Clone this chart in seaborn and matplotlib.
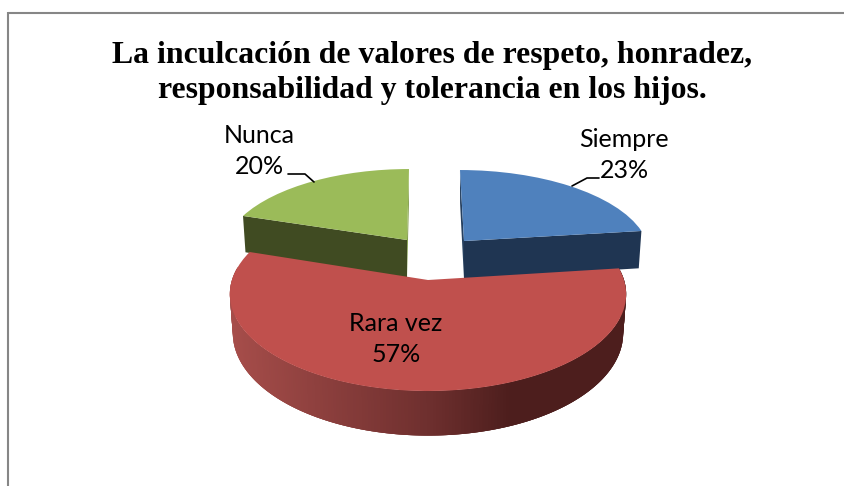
import numpy as np
import matplotlib
matplotlib.use("Agg")
import matplotlib.pyplot as plt
import seaborn as sns
from matplotlib.transforms import Transform
from matplotlib.patches import Polygon

categories = ["Siempre", "Rara vez", "Nunca"]
values = [23, 57, 20]
slice_colors = ["#4F81BD", "#C0504D", "#9BBB59"]
side_colors = ["#1F3552", "#4D1E1D", "#404B22"]
back_colors = ["#26405F", "#4D1E1D", "#7F9A48"]
title_lines = ["La inculcación de valores de respeto, honradez,",
               "responsabilidad y tolerancia en los hijos."]

sns.set_theme(style="white")
W, H = 844, 486
fig = plt.figure(figsize=(W / 100, H / 100), dpi=100)
ax = fig.add_axes([0, 0, 1, 1])
wedges, _ = ax.pie(values, colors=slice_colors, startangle=90, counterclock=False, radius=1,
                   wedgeprops=dict(linewidth=0, edgecolor="none"))
ax.set_aspect("auto")
ax.set_xlim(0, W)
ax.set_ylim(H, 0)
ax.axis("off")

K = 0.147


class Perspective(Transform):
    """Projects the unit pie onto a tilted plane, in pixel-like data units."""
    input_dims = output_dims = 2

    def __init__(self, cx, cy, rx, ry, shear):
        super().__init__()
        self.p = (cx, cy, rx, ry, shear)

    def transform_non_affine(self, xy):
        cx, cy, rx, ry, shear = self.p
        xy = np.asarray(xy, float)
        u, v = xy[:, 0], xy[:, 1]
        w = 1 + K * v
        return np.column_stack([cx + (rx * u + shear * v) / w, cy - ry * v / w])


def drop(pts, cx, depth, v):
    out = pts.copy()
    out[:, 0] = cx + (pts[:, 0] - cx) * 0.985
    out[:, 1] = pts[:, 1] + depth / (1 + K * v)
    return out


def unit(theta):
    t = np.deg2rad(theta)
    return np.column_stack([np.cos(t), np.sin(t)])


geometry = [
    (464, 241, 182.7, 81.4, -4.6),
    (428, 280, 196.0, 94.7, 0.0),
    (407, 240, 181.0, 81.4, 2.3),
]
DEPTH = 38.0
grad_x = [232, 430, 510, 640]
grad_r = [0xA6, 0x6E, 0x4D, 0x4D]
grad_g = [0x4D, 0x2F, 0x1E, 0x1E]
grad_b = [0x4A, 0x2E, 0x1D, 0x1D]

# Blue and green slices: flat cut faces, then the tops
for i in (0, 2):
    w, tr = wedges[i], Perspective(*geometry[i])
    cx = geometry[i][0]
    for ang in (w.theta1, w.theta2):
        rim = unit(np.array([ang]))
        quad = np.vstack([np.zeros((1, 2)), rim])
        top = tr.transform_non_affine(quad)
        bot = drop(top, cx, DEPTH, quad[:, 1])
        c = side_colors[i] if rim[0, 1] < 0.5 else back_colors[i]
        ax.add_patch(Polygon(np.vstack([top, bot[::-1]]), closed=True, fc=c, ec="none", zorder=2))
    w.set_transform(w.get_patch_transform() + tr + ax.transData)
    w.set_zorder(3)

# Red slice: shaded rim, then the top
w, tr = wedges[1], Perspective(*geometry[1])
cx = geometry[1][0]
angles = np.linspace(w.theta1, w.theta2, 260)
rim = unit(angles)
top = tr.transform_non_affine(rim)
bot = drop(top, cx, DEPTH, rim[:, 1])
for j in range(len(rim) - 3):
    if rim[j, 1] > 0.15:
        continue
    xm = 0.5 * (top[j, 0] + top[j + 1, 0])
    c = (np.interp(xm, grad_x, grad_r) / 255, np.interp(xm, grad_x, grad_g) / 255, np.interp(xm, grad_x, grad_b) / 255)
    q = np.vstack([top[j:j + 4], bot[j:j + 4][::-1]])
    ax.add_patch(Polygon(q, closed=True, fc=c, ec="none", zorder=4))
w.set_transform(w.get_patch_transform() + tr + ax.transData)
w.set_zorder(5)

# Frame
frame = dict(color="#868686", lw=1.5, zorder=1, solid_capstyle="butt")
ax.plot([8, 8], [486, 12.5], **frame)
ax.plot([7.5, 844], [13, 13], **frame)

# Title
for line, y in zip(title_lines, (56, 90.5)):
    ax.text(432.5, y, line, ha="center", va="center", family="Liberation Serif",
            fontweight="bold", fontsize=22.9, color="black", zorder=6)

# Labels
lab = dict(ha="center", va="center", family="Lato", fontsize=18, color="black", linespacing=1.45, zorder=6)
texts = [(624, 155), (396, 339), (259, 151)]
for name, val, (x, y) in zip(categories, values, texts):
    ax.text(x, y, f"{name}\n{val}%", **lab)

# Leader lines
lead = dict(color="black", lw=1.2, zorder=6)
ax.plot([599, 587, 572], [178, 178, 186], **lead)
ax.plot([288, 305, 314], [174, 174, 182], **lead)

fig.savefig("out.png", dpi=100, facecolor="white")
